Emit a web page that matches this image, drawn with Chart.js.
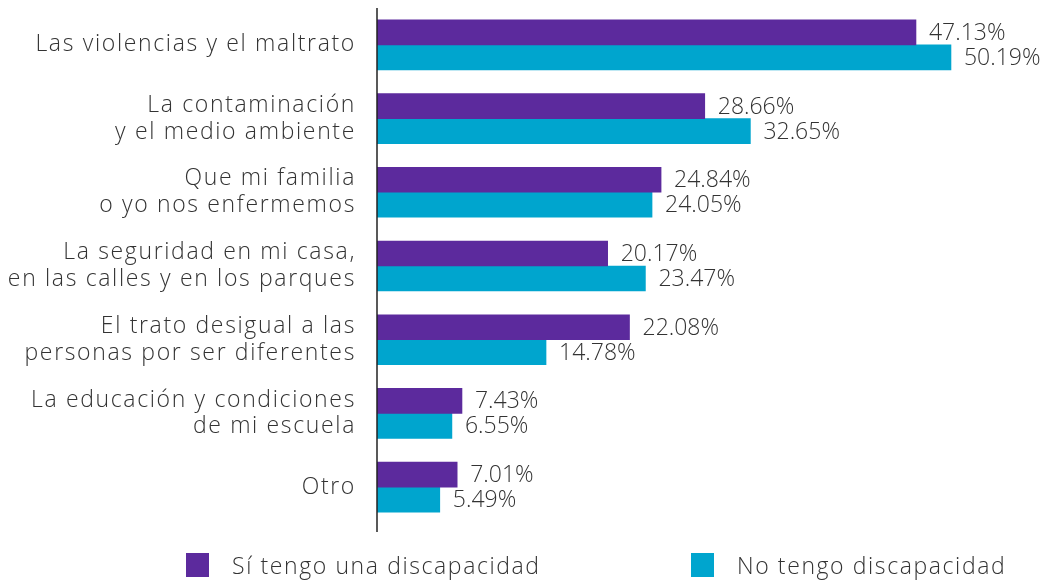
<!DOCTYPE html>
<html>
<head>
<meta charset="utf-8">
<script src="https://cdn.jsdelivr.net/npm/chart.js@4.4.1/dist/chart.umd.min.js"></script>
<style>
  html, body { margin: 0; padding: 0; background: #ffffff; }
  #wrap { width: 1046px; height: 580px; position: relative; }
  #c { position: absolute; left: 0; top: 0; }
  .lg { position: absolute; top: 553px; height: 24px; display: flex; align-items: center;
        font-family: 'Open Sans', sans-serif; font-weight: 300; font-size: 23px; color: #333333;
        letter-spacing: 1.6px; white-space: nowrap; }
  .lg .box { width: 23px; height: 24px; margin-right: 23px; flex: none; }
</style>
</head>
<body>
<div id="wrap">
  <canvas id="c" width="1046" height="580"></canvas>
  <div class="lg" id="lg0" style="left:186px"><span class="box"></span><span class="t"></span></div>
  <div class="lg" id="lg1" style="left:691px"><span class="box"></span><span class="t"></span></div>
</div>
<script>
const categories = [
  ["Las violencias y el maltrato"],
  ["La contaminación", "y el medio ambiente"],
  ["Que mi familia", "o yo nos enfermemos"],
  ["La seguridad en mi casa,", "en las calles y en los parques"],
  ["El trato desigual a las", "personas por ser diferentes"],
  ["La educación y condiciones", "de mi escuela"],
  ["Otro"]
];
const seriesNames = ["Sí tengo una discapacidad", "No tengo discapacidad"];
const siDiscapacidad = [47.13, 28.66, 24.84, 20.17, 22.08, 7.43, 7.01];
const noDiscapacidad = [50.19, 32.65, 24.05, 23.47, 14.78, 6.55, 5.49];

const PURPLE = '#5C2A9D';
const CYAN = '#00A5CE';
const COLORS = [PURPLE, CYAN];
const TEXT = '#333333';
const FONT = "'Open Sans', sans-serif";

const spacing = {
  id: 'spacing',
  beforeDraw(chart) { chart.ctx.letterSpacing = '1.65px'; }
};

const valueLabels = {
  id: 'valueLabels',
  afterDatasetsDraw(chart) {
    const ctx = chart.ctx;
    ctx.save();
    ctx.letterSpacing = '0px';
    ctx.font = `300 23px ${FONT}`;
    ctx.fillStyle = TEXT;
    ctx.textAlign = 'left';
    ctx.textBaseline = 'middle';
    chart.data.datasets.forEach((ds, i) => {
      const meta = chart.getDatasetMeta(i);
      meta.data.forEach((bar, j) => {
        ctx.fillText(ds.data[j].toFixed(2) + '%', bar.x + 13, bar.y + 1);
      });
    });
    ctx.restore();
  }
};

const axisLine = {
  id: 'axisLine',
  afterDraw(chart) {
    const ctx = chart.ctx;
    const a = chart.chartArea;
    ctx.save();
    ctx.strokeStyle = '#222222';
    ctx.lineWidth = 1.5;
    ctx.beginPath();
    ctx.moveTo(a.left, a.top);
    ctx.lineTo(a.left, a.bottom + 8);
    ctx.stroke();
    ctx.restore();
  }
};

const chart = new Chart(document.getElementById('c'), {
  type: 'bar',
  data: {
    labels: categories,
    datasets: [
      { label: seriesNames[0], data: siDiscapacidad, backgroundColor: PURPLE, barThickness: 25 },
      { label: seriesNames[1], data: noDiscapacidad, backgroundColor: CYAN, barThickness: 25 }
    ]
  },
  options: {
    indexAxis: 'y',
    responsive: false,
    animation: false,
    layout: { padding: { top: 8, right: 0, left: 0, bottom: 56 } },
    scales: {
      x: { display: false, min: 0, max: 58.5 },
      y: {
        grid: { display: false },
        border: { display: false },
        afterFit: (axis) => { axis.width = 377; axis.paddingTop = 0; axis.paddingBottom = 0; },
        ticks: {
          color: TEXT,
          padding: 13,
          autoSkip: false,
          font: { family: FONT, size: 23, weight: 300, lineHeight: 1.17 }
        }
      }
    },
    plugins: {
      tooltip: { enabled: false },
      legend: { display: false }
    }
  },
  plugins: [spacing, valueLabels, axisLine]
});

chart.data.datasets.forEach((ds, i) => {
  const el = document.getElementById('lg' + i);
  el.querySelector('.box').style.background = COLORS[i];
  el.querySelector('.t').textContent = ds.label;
});
</script>
</body>
</html>
